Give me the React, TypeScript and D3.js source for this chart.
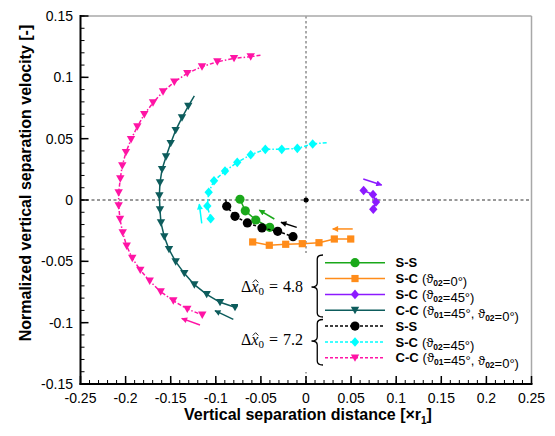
import React from "react";
import * as d3 from "d3";

type Pt = [number, number];

// Δx̂0 = 4.8 cases
const ssNear: Pt[] = [
  [-0.0732, 0.0006], [-0.0673, -0.0088], [-0.0557, -0.0163], [-0.0402, -0.0223],
];
const sc0Near: Pt[] = [
  [-0.0591, -0.0342], [-0.0407, -0.0369], [-0.0225, -0.0361], [-0.0041, -0.0356],
  [0.0144, -0.0348], [0.0314, -0.0318], [0.0496, -0.0318],
];
const sc45Near: Pt[] = [
  [0.0639, 0.0077], [0.0743, 0.0045], [0.0776, -0.0016], [0.0746, -0.0076],
];
const ccNear: Pt[] = [
  [-0.1238, 0.0848], [-0.1305, 0.0766], [-0.1375, 0.0671], [-0.1445, 0.0568],
  [-0.15, 0.0462], [-0.1552, 0.0353], [-0.1596, 0.025], [-0.1619, 0.0141],
  [-0.1626, 0.0035], [-0.1619, -0.0079], [-0.1608, -0.0185], [-0.1571, -0.0299],
  [-0.1519, -0.0402], [-0.1445, -0.0503], [-0.1349, -0.0598], [-0.1238, -0.069],
  [-0.1101, -0.0769], [-0.0953, -0.0834], [-0.0787, -0.0875],
];

// Δx̂0 = 7.2 cases
const ssFar: Pt[] = [
  [-0.089, 0.0004], [-0.0879, -0.0051], [-0.0787, -0.0133], [-0.065, -0.0187],
  [-0.0488, -0.0228], [-0.0314, -0.0255], [-0.0144, -0.0299],
];
const sc45Far: Pt[] = [
  [0.0229, 0.0467], [0.0074, 0.0457], [-0.0096, 0.0421], [-0.0269, 0.0413],
  [-0.0451, 0.0413], [-0.0613, 0.0369], [-0.0762, 0.0307], [-0.0898, 0.0236],
  [-0.102, 0.0157], [-0.1079, 0.0063], [-0.1094, -0.0049], [-0.1057, -0.0152],
];
const ccFar: Pt[] = [
  [-0.0505, 0.1180], [-0.0613, 0.1168], [-0.0798, 0.1155], [-0.0983, 0.1127],
  [-0.1153, 0.1087], [-0.1316, 0.1033], [-0.146, 0.0962], [-0.1585, 0.0883],
  [-0.1696, 0.0793], [-0.1793, 0.0698], [-0.187, 0.0597], [-0.194, 0.0494],
  [-0.1996, 0.0389], [-0.2037, 0.028], [-0.2059, 0.0174], [-0.2077, 0.006],
  [-0.2077, -0.0046], [-0.2062, -0.0157], [-0.2032, -0.0267], [-0.1988, -0.0375],
  [-0.1926, -0.0475], [-0.1837, -0.0571], [-0.1733, -0.066], [-0.1611, -0.0748],
  [-0.1471, -0.0821], [-0.1316, -0.0889], [-0.115, -0.0937],
];

// direction arrows: [tail, head]
const arrowsData: { color: string; from: Pt; to: Pt }[] = [
  { color: "#ff14a5", from: [-0.1175, -0.1019], to: [-0.1378, -0.0965] },
  { color: "#0d5c5c", from: [-0.0806, -0.0973], to: [-0.1009, -0.0902] },
  { color: "#00ffff", from: [-0.1156, -0.019], to: [-0.1183, -0.0033] },
  { color: "#000000", from: [-0.0103, -0.0223], to: [-0.0277, -0.0182] },
  { color: "#1aa81a", from: [-0.0351, -0.0155], to: [-0.0518, -0.0082] },
  { color: "#ff8c1a", from: [0.0518, -0.0236], to: [0.0296, -0.0236] },
  { color: "#8c1aff", from: [0.0635, 0.0171], to: [0.0839, 0.0122] },
];

const xTicks = [-0.25, -0.2, -0.15, -0.1, -0.05, 0, 0.05, 0.1, 0.15, 0.2, 0.25];
const yTicks = [-0.15, -0.1, -0.05, 0, 0.05, 0.1, 0.15];
const groupLabels = ["4.8", "7.2"];

type Marker = "circle" | "square" | "diamond" | "tri";
interface Series {
  data: Pt[];
  color: string;
  marker: Marker;
  dash: string | null;
  skipFirst: boolean;
  label: string;
  sub: [string, string][]; // pairs of (text, subscript)
}

const seriesList: Series[] = [
  { data: ssNear, color: "#1aa81a", marker: "circle", dash: null, skipFirst: false, label: "S-S", sub: [] },
  { data: sc0Near, color: "#ff8c1a", marker: "square", dash: null, skipFirst: false, label: "S-C", sub: [["(ϑ", "02"], ["=0°)", ""]] },
  { data: sc45Near, color: "#8c1aff", marker: "diamond", dash: null, skipFirst: false, label: "S-C", sub: [["(ϑ", "02"], ["=45°)", ""]] },
  { data: ccNear, color: "#0d5c5c", marker: "tri", dash: null, skipFirst: true, label: "C-C", sub: [["(ϑ", "01"], ["=45°, ϑ", "02"], ["=0°)", ""]] },
  { data: ssFar, color: "#000000", marker: "circle", dash: "3,2", skipFirst: true, label: "S-S", sub: [] },
  { data: sc45Far, color: "#00ffff", marker: "diamond", dash: "4,2,1.5,2", skipFirst: true, label: "S-C", sub: [["(ϑ", "02"], ["=45°)", ""]] },
  { data: ccFar, color: "#ff14a5", marker: "tri", dash: "4,2,1.5,2", skipFirst: true, label: "C-C", sub: [["(ϑ", "01"], ["=45°, ϑ", "02"], ["=0°)", ""]] },
];

const W = 555;
const H = 436;
const x = d3.scaleLinear().domain([-0.25, 0.25]).range([80.5, 531.5]);
const y = d3.scaleLinear().domain([-0.15, 0.15]).range([384, 16]);

const sans = "'Liberation Sans', Arial, sans-serif";
const serif = "'Liberation Serif', 'Times New Roman', serif";

function MarkerShape({ kind, cx, cy, color }: { kind: Marker; cx: number; cy: number; color: string }) {
  if (kind === "circle") return <circle cx={cx} cy={cy} r={4.6} fill={color} />;
  if (kind === "square") return <rect x={cx - 3.6} y={cy - 3.6} width={7.2} height={7.2} fill={color} />;
  if (kind === "diamond")
    return <path d={`M${cx},${cy - 4.8}L${cx + 4.2},${cy}L${cx},${cy + 4.8}L${cx - 4.2},${cy}Z`} fill={color} />;
  return <path d={`M${cx - 4.2},${cy - 3.4}L${cx + 4.2},${cy - 3.4}L${cx},${cy + 4}Z`} fill={color} />;
}

function bracePath(xTip: number, xArm: number, y0: number, y1: number, ym: number) {
  const xm = (xTip + xArm) / 2;
  const r = 4;
  return [
    `M${xArm},${y0}`,
    `Q${xm},${y0} ${xm},${y0 + r}`,
    `L${xm},${ym - r}`,
    `Q${xm},${ym} ${xTip},${ym}`,
    `Q${xm},${ym} ${xm},${ym + r}`,
    `L${xm},${y1 - r}`,
    `Q${xm},${y1} ${xArm},${y1}`,
  ].join(" ");
}

export default function App() {
  const line = d3.line<Pt>().x((d) => x(d[0])).y((d) => y(d[1]));
  const minorX = d3.range(-0.25, 0.2501, 0.01);
  const minorY = d3.range(-0.15, 0.1501, 0.01);

  const legX0 = 325;
  const legX1 = 385;
  const legRow0 = 262.7;
  const legStep = 15.85;
  const groupY = [292, 345];

  return (
    <svg width={W} height={H} style={{ display: "block", position: "absolute", left: 0, top: 0 }}>
      <defs>
        {arrowsData.map((a, i) => (
          <marker key={i} id={`ah${i}`} viewBox="0 0 10 10" refX="9" refY="5" markerWidth="7" markerHeight="6" orient="auto" markerUnits="userSpaceOnUse">
            <path d="M0,0L10,5L0,10Z" fill={a.color} />
          </marker>
        ))}
      </defs>
      <rect x={0} y={0} width={W} height={H} fill="#fff" />

      {/* zero reference lines */}
      <line x1={x(-0.25)} x2={x(0.25)} y1={y(0)} y2={y(0)} stroke="#333" strokeWidth={1} strokeDasharray="3,2.5" />
      <line x1={x(0)} x2={x(0)} y1={y(0.15)} y2={y(-0.15)} stroke="#555" strokeWidth={1} strokeDasharray="2.5,2.5" />
      <circle cx={x(0)} cy={y(0)} r={2.5} fill="#000" />

      {/* trajectories */}
      {seriesList.map((s, i) => (
        <g key={i}>
          <path d={line(s.data) || ""} fill="none" stroke={s.color} strokeWidth={1.5} strokeDasharray={s.dash || undefined} />
          {s.data.map((d, j) =>
            s.skipFirst && j === 0 ? null : (
              <MarkerShape key={j} kind={s.marker} cx={x(d[0])} cy={y(d[1])} color={s.color} />
            )
          )}
        </g>
      ))}

      {/* motion direction arrows */}
      {arrowsData.map((a, i) => (
        <line key={i} x1={x(a.from[0])} y1={y(a.from[1])} x2={x(a.to[0])} y2={y(a.to[1])} stroke={a.color} strokeWidth={1.5} markerEnd={`url(#ah${i})`} />
      ))}

      {/* legend */}
      <rect x={238} y={253} width={290} height={119} fill="#fff" />
      <path d={bracePath(311.5, 323, 255, 317, 287)} fill="none" stroke="#000" strokeWidth={1.3} />
      <path d={bracePath(311.5, 323, 319.5, 365, 341)} fill="none" stroke="#000" strokeWidth={1.3} />
      {groupLabels.map((v, i) => (
        <g key={i}>
          <text x={241} y={groupY[i]} fontFamily={serif} fontSize={16} fill="#000">
            Δ<tspan fontStyle="italic">x</tspan>
            <tspan fontSize={11} dy={3}>0</tspan>
            <tspan dy={-3} dx={5}>=</tspan>
            <tspan dx={5}>{v}</tspan>
          </text>
          {/* circumflex accent over the x */}
          <path
            d={`M${252.8},${groupY[i] - 9.5}L${255.6},${groupY[i] - 12.3}L${258.4},${groupY[i] - 9.5}`}
            fill="none"
            stroke="#000"
            strokeWidth={0.9}
          />
        </g>
      ))}
      {seriesList.map((s, i) => {
        const ly = legRow0 + i * legStep;
        return (
          <g key={i}>
            <line x1={legX0} x2={legX1} y1={ly} y2={ly} stroke={s.color} strokeWidth={1.5} strokeDasharray={s.dash ? "3,2" : undefined} />
            <MarkerShape kind={s.marker} cx={(legX0 + legX1) / 2} cy={ly} color={s.color} />
            <text x={395.5} y={ly + 4.6} fontFamily={sans} fontSize={13} fill="#000">
              <tspan fontWeight="bold">{s.label}</tspan>
              {s.sub.map(([t, sb], k) => (
                <React.Fragment key={k}>
                  <tspan dx={k === 0 ? 4 : 0}>{t}</tspan>
                  {sb ? (
                    <>
                      <tspan fontSize={8.5} fontWeight="bold" dy={3}>{sb}</tspan>
                      <tspan dy={-3}></tspan>
                    </>
                  ) : null}
                </React.Fragment>
              ))}
            </text>
          </g>
        );
      })}

      {/* axes frame */}
      <line x1={x(-0.25)} x2={x(0.25)} y1={y(0.15)} y2={y(0.15)} stroke="#a8a8a8" strokeWidth={1.5} />
      <line x1={x(0.25)} x2={x(0.25)} y1={y(0.15)} y2={y(-0.15)} stroke="#a8a8a8" strokeWidth={1.5} />
      <line x1={x(-0.25) - 1} x2={x(0.25) + 1} y1={y(-0.15)} y2={y(-0.15)} stroke="#000" strokeWidth={2} />
      <line x1={x(-0.25)} x2={x(-0.25)} y1={y(0.15) - 1} y2={y(-0.15) + 1} stroke="#000" strokeWidth={2} />

      {/* ticks */}
      {minorX.map((v, i) => (
        <line key={`mx${i}`} x1={x(v)} x2={x(v)} y1={y(-0.15)} y2={y(-0.15) - 4} stroke="#000" strokeWidth={1} />
      ))}
      {xTicks.map((v) => (
        <g key={`x${v}`}>
          <line x1={x(v)} x2={x(v)} y1={y(-0.15)} y2={y(-0.15) - 8} stroke="#000" strokeWidth={1.5} />
          <text x={x(v)} y={403} textAnchor="middle" fontFamily={sans} fontSize={14} fill="#000">{String(v)}</text>
        </g>
      ))}
      {minorY.map((v, i) => (
        <line key={`my${i}`} x1={x(-0.25)} x2={x(-0.25) + 4} y1={y(v)} y2={y(v)} stroke="#000" strokeWidth={1} />
      ))}
      {yTicks.map((v) => (
        <g key={`y${v}`}>
          <line x1={x(-0.25)} x2={x(-0.25) + 8} y1={y(v)} y2={y(v)} stroke="#000" strokeWidth={1.5} />
          <text x={73} y={y(v) + 5} textAnchor="end" fontFamily={sans} fontSize={14} fill="#000">{String(v)}</text>
        </g>
      ))}

      {/* axis titles */}
      <text x={308} y={420} textAnchor="middle" fontFamily={sans} fontSize={16} fontWeight="bold" fill="#000">
        Vertical separation distance [×r<tspan fontSize={10} dy={4}>1</tspan><tspan dy={-4}>]</tspan>
      </text>
      <text transform={`translate(31,${183}) rotate(-90)`} textAnchor="middle" fontFamily={sans} fontSize={16} fontWeight="bold" fill="#000">
        Normalized vertical separation velocity [-]
      </text>
    </svg>
  );
}
